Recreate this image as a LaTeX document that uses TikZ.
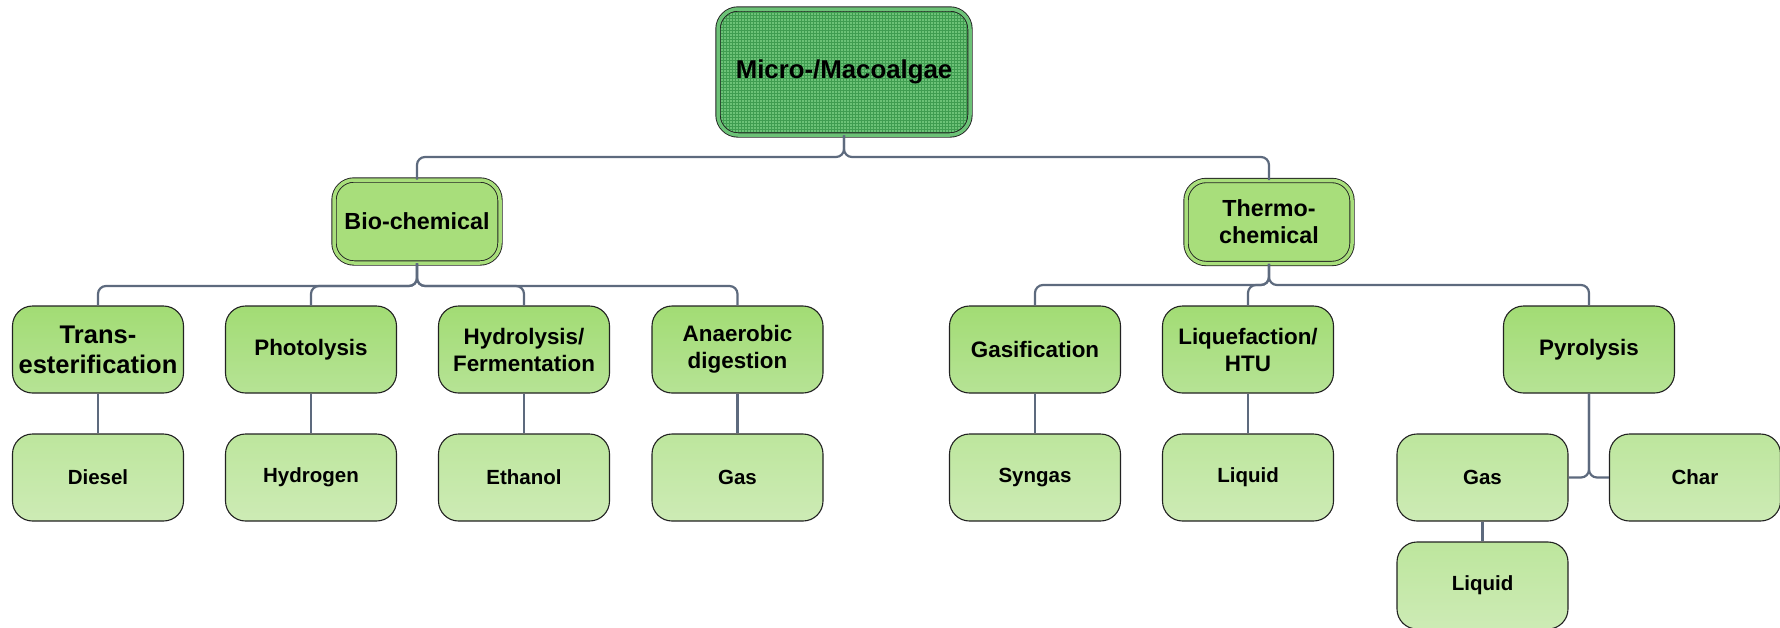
\documentclass[tikz,border=0pt]{standalone}
\usepackage{fontspec}
\setmainfont{Liberation Sans}
\usetikzlibrary{patterns}
\definecolor{linec}{HTML}{5D6A7E}
\definecolor{edgec}{HTML}{222222}
\definecolor{topfill}{HTML}{6CC277}
\definecolor{toppat}{HTML}{3F9C50}
\definecolor{lvtwo}{HTML}{A8DE7B}
\definecolor{rowtop}{HTML}{A2DC74}
\definecolor{rowbot}{HTML}{B6E395}
\definecolor{leaftop}{HTML}{BDE69D}
\definecolor{leafbot}{HTML}{CDEBB5}
\tikzset{
  x=1pt, y=1pt,
  base/.style={rectangle, rounded corners=20pt, inner sep=0pt, align=center, font=\bfseries},
  topbox/.style={base, draw=edgec, line width=0.9pt, double=topfill, double distance=3.5pt,
     preaction={fill=topfill}, pattern=grid, pattern color=toppat,
     minimum width=252pt, minimum height=126pt, font=\bfseries\fontsize{25.8}{30}\selectfont},
  midbox/.style={base, draw=edgec, line width=0.9pt, double=lvtwo, double distance=3.5pt, fill=lvtwo,
     minimum width=166pt, minimum height=83pt, font=\bfseries\fontsize{23.3}{27}\selectfont},
  procbox/.style={base, draw=edgec, line width=1.1pt, top color=rowtop, bottom color=rowbot,
     minimum width=171pt, minimum height=87pt, font=\bfseries\fontsize{22.4}{27}\selectfont},
  leafbox/.style={base, draw=edgec, line width=1.1pt, top color=leaftop, bottom color=leafbot,
     minimum width=171pt, minimum height=87pt, font=\bfseries\fontsize{20.5}{24}\selectfont},
  conn/.style={draw=linec, line width=2.2pt, rounded corners=8pt},
}
\begin{document}
\begin{tikzpicture}
\useasboundingbox (0,0) rectangle (1780,-627);
\begin{scope}
\clip (0,0) rectangle (1780,-627);
% bar levels
\coordinate (barA) at (0,-157);
\coordinate (barB) at (0,-286);
\coordinate (barC) at (0,-285);

% top
\node[topbox] (top) at (844,-72) {Micro-/Macoalgae};
% level 2
\node[midbox] (bio) at (417,-221.5) {Bio-chemical};
\node[midbox] (thermo) at (1269,-222) {Thermo-\\chemical};
% process row
\node[procbox, font=\bfseries\fontsize{25.5}{30}\selectfont] (trans) at (98,-349.5) {Trans-\\esterification};
\node[procbox] (photo) at (311,-349.5) {Photolysis};
\node[procbox] (hydro) at (524,-349.5) {Hydrolysis/\\Fermentation};
\node[procbox] (anaer) at (737.5,-349.5) {Anaerobic\\digestion};
\node[procbox] (gasif) at (1035,-349.5) {Gasification};
\node[procbox] (lique) at (1248,-349.5) {Liquefaction/\\HTU};
\node[procbox] (pyro) at (1589,-349.5) {Pyrolysis};
% products
\node[leafbox] (diesel) at (98,-477.5) {Diesel};
\node[leafbox] (hydrogen) at (311,-477.5) {Hydrogen};
\node[leafbox] (ethanol) at (524,-477.5) {Ethanol};
\node[leafbox] (gasA) at (737.5,-477.5) {Gas};
\node[leafbox] (syngas) at (1035,-477.5) {Syngas};
\node[leafbox] (liquidA) at (1248,-477.5) {Liquid};
\node[leafbox] (gasB) at (1482.5,-477.5) {Gas};
\node[leafbox] (char) at (1695,-477.5) {Char};
\node[leafbox] (liquidB) at (1482.5,-585.5) {Liquid};

% connectors
\foreach \c in {bio,thermo}
  \draw[conn] (top.south) |- (\c.north |- barA) -- (\c.north);
\foreach \c in {trans,photo,hydro,anaer}
  \draw[conn] (bio.south) |- (\c.north |- barB) -- (\c.north);
\foreach \c in {gasif,lique,pyro}
  \draw[conn] (thermo.south) |- (\c.north |- barC) -- (\c.north);
\draw[conn] (trans.south) -- (diesel.north);
\draw[conn] (photo.south) -- (hydrogen.north);
\draw[conn] (hydro.south) -- (ethanol.north);
\draw[conn] (anaer.south) -- (gasA.north);
\draw[conn] (gasif.south) -- (syngas.north);
\draw[conn] (lique.south) -- (liquidA.north);
\draw[conn] (pyro.south) |- (gasB.east);
\draw[conn] (pyro.south) |- (char.west);
\draw[conn] (gasB.south) -- (liquidB.north);
\end{scope}
\end{tikzpicture}
\end{document}
